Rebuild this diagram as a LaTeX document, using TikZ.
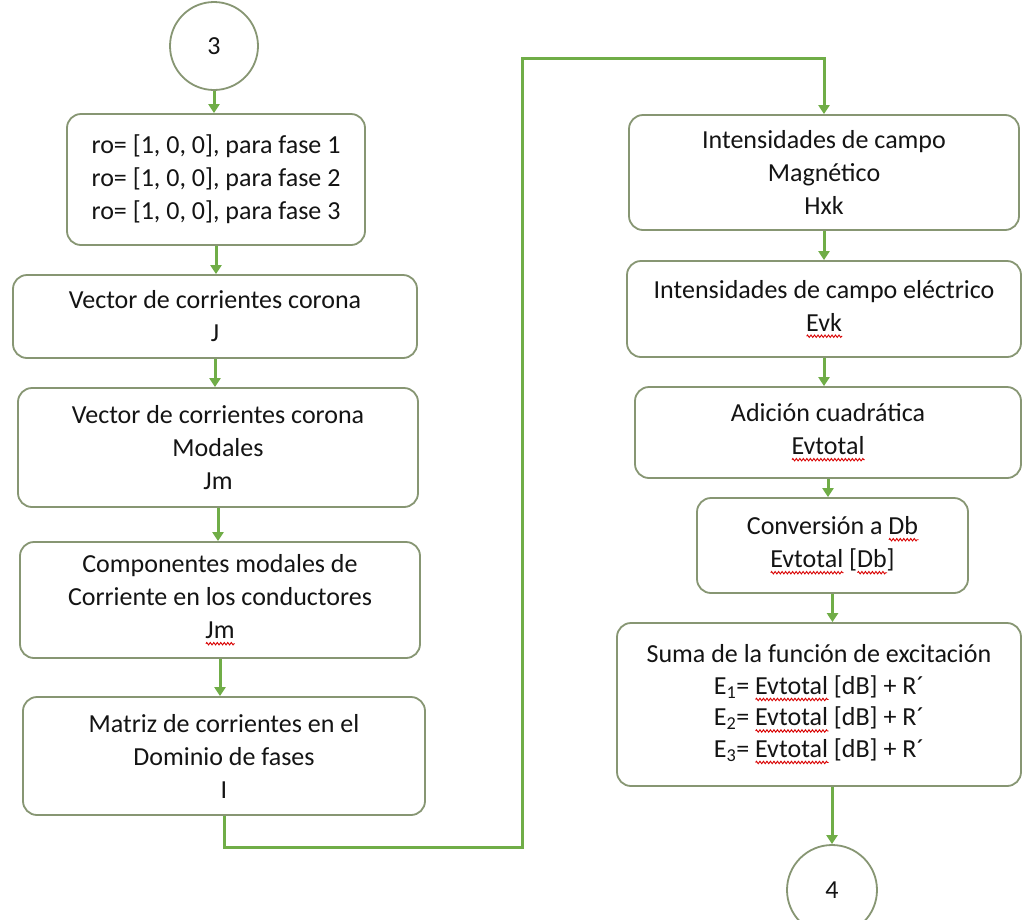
\documentclass[tikz,border=0pt]{standalone}
\usepackage{fontspec}
\setmainfont{Carlito}
\usetikzlibrary{arrows.meta,decorations.pathmorphing}
\definecolor{arrowgreen}{RGB}{112,173,71}
\definecolor{boxline}{RGB}{135,150,115}
\definecolor{txt}{RGB}{20,20,20}
\newsavebox{\wavebox}
\newcommand{\redwave}[1]{\sbox{\wavebox}{#1}\rlap{\tikz[baseline=0pt]\draw[red!85!black, line width=0.9pt, sharp corners, decorate, decoration={zigzag, amplitude=1.2pt, segment length=3.5pt}] (0pt,-5pt) -- (\wd\wavebox,-5pt);}\usebox{\wavebox}}
\tikzset{
  box/.style={draw=boxline, line width=1.8pt, fill=white, rounded corners=14pt,
    align=center, inner sep=0pt, text=txt, font=\fontsize{26}{33}\selectfont},
  term/.style={circle, draw=boxline, line width=1.8pt, fill=white, inner sep=0pt,
    text=txt, font=\fontsize{26}{33}\selectfont},
  flow/.style={draw=arrowgreen, line width=3pt, -{Triangle[width=11pt,length=9pt]}}
}
\begin{document}
\begin{tikzpicture}[x=1pt,y=-1pt]
\useasboundingbox (0,0) rectangle (1023,919);
\clip (0,0) rectangle (1023,919);
\fill[white] (0,0) rectangle (1023,919);
% left column
\node[term, minimum size=88pt] (c3) at (214,46) {3};
\node[box, minimum width=298pt, minimum height=131pt] (b1) at (216,179.5)
  {ro= [1, 0, 0], para fase 1\\ro= [1, 0, 0], para fase 2\\ro= [1, 0, 0], para fase 3};
\node[box, minimum width=404pt, minimum height=83pt] (b2) at (215,316.5)
  {Vector de corrientes corona\\J};
\node[box, minimum width=400pt, minimum height=119pt] (b3) at (218,447.5)
  {Vector de corrientes corona\\Modales\\Jm};
\node[box, minimum width=400pt, minimum height=116pt] (b4) at (220,600)
  {Componentes modales de\\Corriente en los conductores\\\redwave{Jm}};
\node[box, minimum width=402pt, minimum height=118pt] (b5) at (224,756)
  {Matriz de corrientes en el\\Dominio de fases\\I};
% right column
\node[box, minimum width=390pt, minimum height=115pt] (r1) at (824,172.5)
  {Intensidades de campo\\Magnético\\Hxk};
\node[box, minimum width=394pt, minimum height=96pt] (r2) at (824,309)
  {Intensidades de campo eléctrico\\\redwave{Evk}};
\node[box, minimum width=386pt, minimum height=91pt] (r3) at (828,432.5)
  {Adición cuadrática\\\redwave{Evtotal}};
\node[box, minimum width=271pt, minimum height=95pt] (r4) at (832.5,545.5)
  {Conversión a \redwave{Db}\\\redwave{Evtotal} [\redwave{Db}]};
\node[box, minimum width=404pt, minimum height=163pt, font=\fontsize{26}{31.5}\selectfont] (r5) at (819,704.5)
  {Suma de la función de excitación\\E\textsubscript{1}= \redwave{Evtotal} [dB] + R´\\E\textsubscript{2}= \redwave{Evtotal} [dB] + R´\\E\textsubscript{3}= \redwave{Evtotal} [dB] + R´};
\node[term, minimum size=90pt] (c4) at (832,890) {4};
% connectors
\coordinate (k2) at (522,847);
\coordinate (k3) at (522,58);
\draw[flow] (c3.south) -- (c3.south |- b1.north);
\draw[flow] (b1.south) -- (b1.south |- b2.north);
\draw[flow] (b2.south) -- (b2.south |- b3.north);
\draw[flow] (b3.south) -- (b3.south |- b4.north);
\draw[flow] (b4.south) -- (b4.south |- b5.north);
\draw[flow] (b5.south) |- (k2) -- (k3) -| (r1.north);
\draw[flow] (r1.south) -- (r1.south |- r2.north);
\draw[flow] (r2.south) -- (r2.south |- r3.north);
\draw[flow] (r3.south) -- (r3.south |- r4.north);
\draw[flow] (r4.south) -- (r4.south |- r5.north);
\draw[flow] (c4.north |- r5.south) -- (c4.north);
\end{tikzpicture}
\end{document}
